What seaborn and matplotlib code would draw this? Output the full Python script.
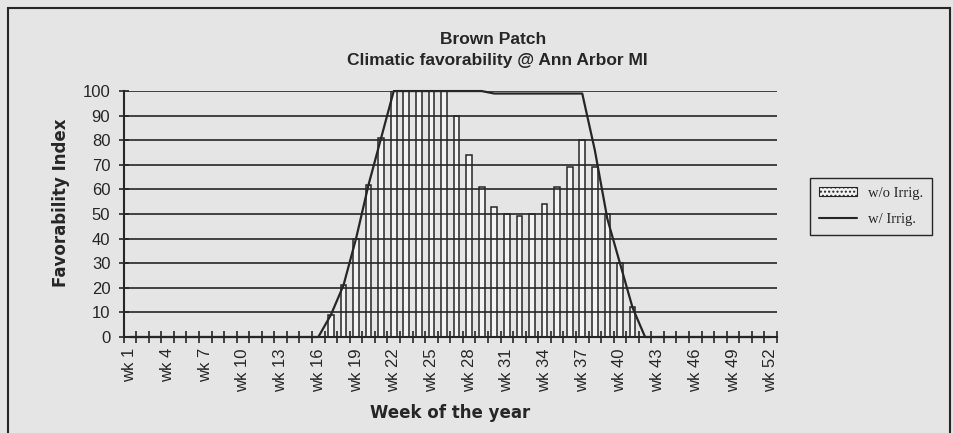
import matplotlib
matplotlib.use("Agg")  # no display in the sandbox
import matplotlib.pyplot as plt
from matplotlib.patches import Patch, Rectangle
from matplotlib.lines import Line2D
import seaborn as sns
import numpy as np
import pandas as pd

# Weekly favorability index
weeks = [f"wk {i}" for i in range(1, 53)]
no_irrig = [0] * 16 + [9, 21, 40, 62, 81,
                       100, 100, 100, 100, 100,
                       90, 74, 61, 53, 50, 49, 50, 54, 61, 69, 80, 69, 50, 30, 12] + [0] * 11
with_irrig = [0] * 16 + [9, 21, 40, 62, 81,
                         100, 100, 100, 100, 100, 100, 100, 100,
                         99, 99, 99, 99, 99, 99, 99, 99,
                         76, 48, 30, 12] + [0] * 11
label_weeks = list(range(1, 53, 3))
y_ticks = list(range(0, 101, 10))

BG = "#e5e5e5"
INK = "#262626"
BAR = "#f3f3f3"

sns.set_theme(style="white")
plt.rcParams["font.family"] = ["Liberation Sans", "DejaVu Sans"]

fig = plt.figure(figsize=(9.54, 4.33), dpi=100, facecolor=BG)
ax = fig.add_axes([0.1295, 0.2217, 0.685, 0.568])
ax.set_facecolor(BG)

df = pd.DataFrame({"week": weeks, "no_irrig": no_irrig, "with_irrig": with_irrig})
df["pos"] = np.arange(len(df))

sns.barplot(data=df, x="week", y="no_irrig", color=BAR, saturation=1,
            edgecolor=INK, linewidth=1.1, width=0.45, ax=ax)
sns.lineplot(data=df, x="pos", y="with_irrig", color=INK, linewidth=1.6,
             ax=ax, clip_on=False)

ax.set_xlim(-0.5, len(weeks) - 0.5)
ax.set_ylim(0, 100)
ax.set_yticks(y_ticks)

# gridlines drawn over the bars, like the original
ax.yaxis.grid(True, color=INK, linewidth=1.2)
ax.set_axisbelow(False)

# week labels every 3rd week, tick marks on category boundaries
ax.set_xticks([w - 1 for w in label_weeks])
ax.set_xticklabels([f"wk {w}" for w in label_weeks], rotation=90, fontsize=12, color=INK)
ax.set_xticks(np.arange(-0.5, len(weeks), 1), minor=True)
ax.tick_params(axis="x", which="major", length=0, pad=8)
ax.tick_params(axis="x", which="minor", length=8, width=1.2, direction="inout",
               color=INK, bottom=True)
ax.tick_params(axis="y", length=7, width=1.2, direction="inout", color=INK,
               labelsize=12, labelcolor=INK, pad=6, left=True)

for side in ["top", "right"]:
    ax.spines[side].set_visible(False)
for side in ["left", "bottom"]:
    ax.spines[side].set_color(INK)
    ax.spines[side].set_linewidth(1.5)

ax.set_xlabel("Week of the year", fontsize=12, fontweight="bold", color=INK,
              family=["DejaVu Sans"])
ax.xaxis.set_label_coords(0.5, -0.272)
ax.set_ylabel("Favorability Index", fontsize=12, fontweight="bold", color=INK,
              family=["DejaVu Sans"])
ax.yaxis.set_label_coords(-0.082, 0.545)

title_font = ["Liberation Sans Narrow", "Liberation Sans"]
fig.text(493 / 954, 1 - 39.5 / 433, "Brown Patch", ha="center", va="center",
         fontsize=12.5, fontweight="bold", color=INK, family=title_font)
fig.text(497 / 954, 1 - 61 / 433, "Climatic favorability @ Ann Arbor MI", ha="center",
         va="center", fontsize=12.5, fontweight="bold", color=INK, family=title_font)

handles = [
    Patch(facecolor=BAR, edgecolor=INK, hatch="....", linewidth=0.8, label="w/o Irrig."),
    Line2D([], [], color=INK, linewidth=1.5, label="w/ Irrig."),
]
fig.legend(handles=handles, loc="center", bbox_to_anchor=(0.913, 0.523),
           frameon=True, fancybox=False, edgecolor=INK, facecolor=BG, framealpha=1,
           prop={"family": "Liberation Serif", "size": 10.5},
           handlelength=2.6, handleheight=0.6, borderpad=0.6, labelspacing=0.9)

# outer chart border of the scan
fig.add_artist(Rectangle((8 / 954, -0.05), (950 - 8) / 954, 1 - 8 / 433 + 0.05,
                         transform=fig.transFigure, fill=False, edgecolor=INK,
                         linewidth=1.5))

fig.savefig("out.png", dpi=100, facecolor=BG)
plt.close(fig)
